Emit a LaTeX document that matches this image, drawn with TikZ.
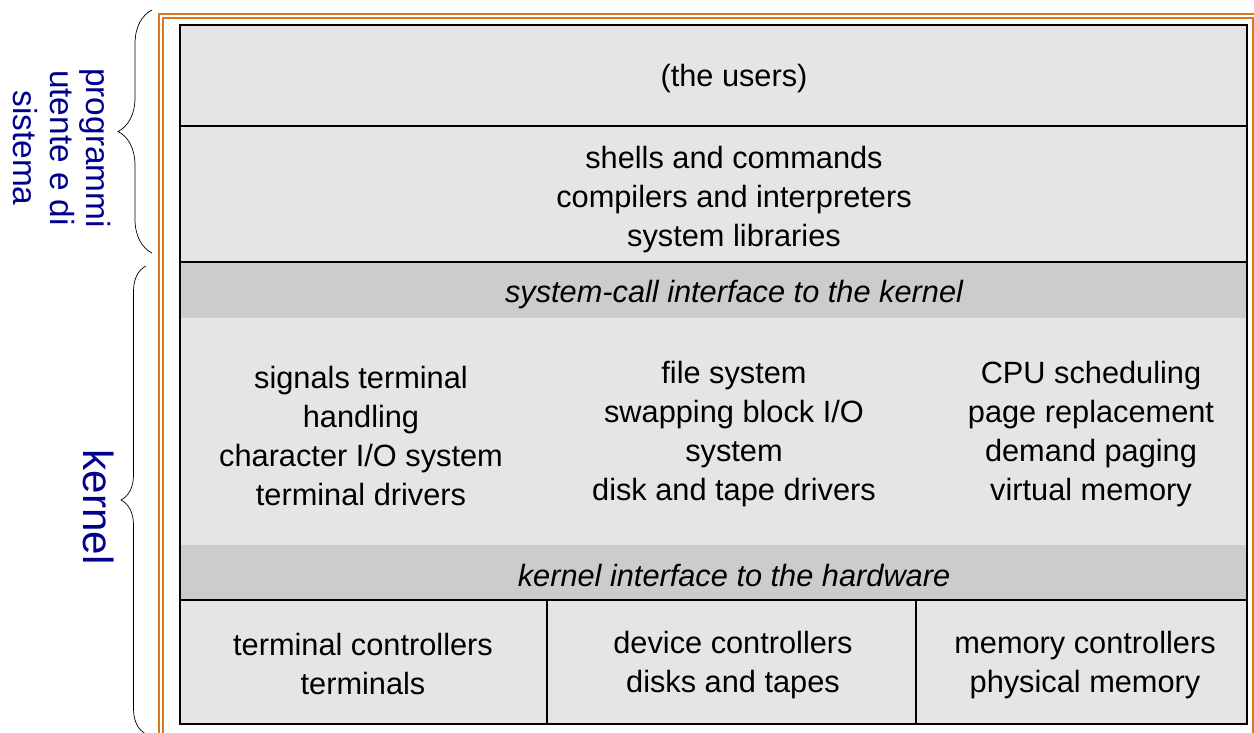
\documentclass[tikz,border=0pt]{standalone}
\usepackage{fontspec}
\setmainfont{Liberation Sans}
\usetikzlibrary{decorations.pathreplacing}
\definecolor{frameorange}{RGB}{218,120,30}
\definecolor{labelblue}{RGB}{0,0,140}
\definecolor{layergray}{RGB}{229,229,229}
\definecolor{bandgray}{RGB}{205,203,206}
\tikzset{
  layer/.style={font=\fontsize{17.5}{22.2}\selectfont, align=center},
  band/.style={font=\fontsize{17.5}{22.2}\selectfont\itshape, align=center},
  side/.style={text=labelblue, align=center, rotate=-90},
}
\begin{document}
\begin{tikzpicture}[x=0.02cm, y=-0.02cm]
        \useasboundingbox (0,0) rectangle (1254,733);
        \clip (0,0) rectangle (1254,733);

        \draw[frameorange, line width=0.85pt] (159,14) rectangle (1258,740);
        \draw[frameorange, line width=0.85pt] (163,18) rectangle (1253,740);
        \fill[layergray] (180,25) rectangle (1247,724);
        \fill[bandgray] (180,262) rectangle (1247,318);
        \fill[bandgray] (180,545) rectangle (1247,600);
        \draw[line width=1.2pt] (180,126) -- (1247,126);
        \draw[line width=1.2pt] (180,262) -- (1247,262);
        \draw[line width=1.2pt] (180,600) -- (1247,600);
        \draw[line width=1.2pt] (547,600) -- (547,724);
        \draw[line width=1.2pt] (916,600) -- (916,724);
        \draw[line width=1.5pt] (180,25) rectangle (1247,724);

        \node[layer] (0) at (734,79) {(the users)};
        \node[layer] (1) at (734,200) {shells and commands\\compilers and interpreters\\system libraries};
        \node[band] (2) at (734,295) {system-call interface to the kernel};
        \node[layer] (3) at (361,436) {signals terminal\\handling\\character I/O system\\terminal drivers};
        \node[layer] (4) at (734,434) {file system\\swapping block I/O\\system\\disk and tape drivers};
        \node[layer] (5) at (1091,434) {CPU scheduling\\page replacement\\demand paging\\virtual memory};
        \node[band] (6) at (734,576) {kernel interface to the hardware};
        \node[layer] (7) at (363,664) {terminal controllers\\terminals};
        \node[layer] (8) at (733,665) {device controllers\\disks and tapes};
        \node[layer] (9) at (1085,665) {memory controllers\\physical memory};

        \node[side, font=\fontsize{19}{21}\selectfont] (10) at (62,148) {programmi\\utente e di\\sistema};
        \node[side, font=\fontsize{24}{28}\selectfont] (11) at (99,507) {kernel};

        \coordinate (12) at (152,253);
        \coordinate (13) at (152,10);
        \coordinate (14) at (146,734);
        \coordinate (15) at (146,266);
        \draw[decorate, decoration={brace, amplitude=0.68cm}] (12) -- (13);
        \draw[decorate, decoration={brace, amplitude=0.5cm}] (14) -- (15);
      \end{tikzpicture}
\end{document}
